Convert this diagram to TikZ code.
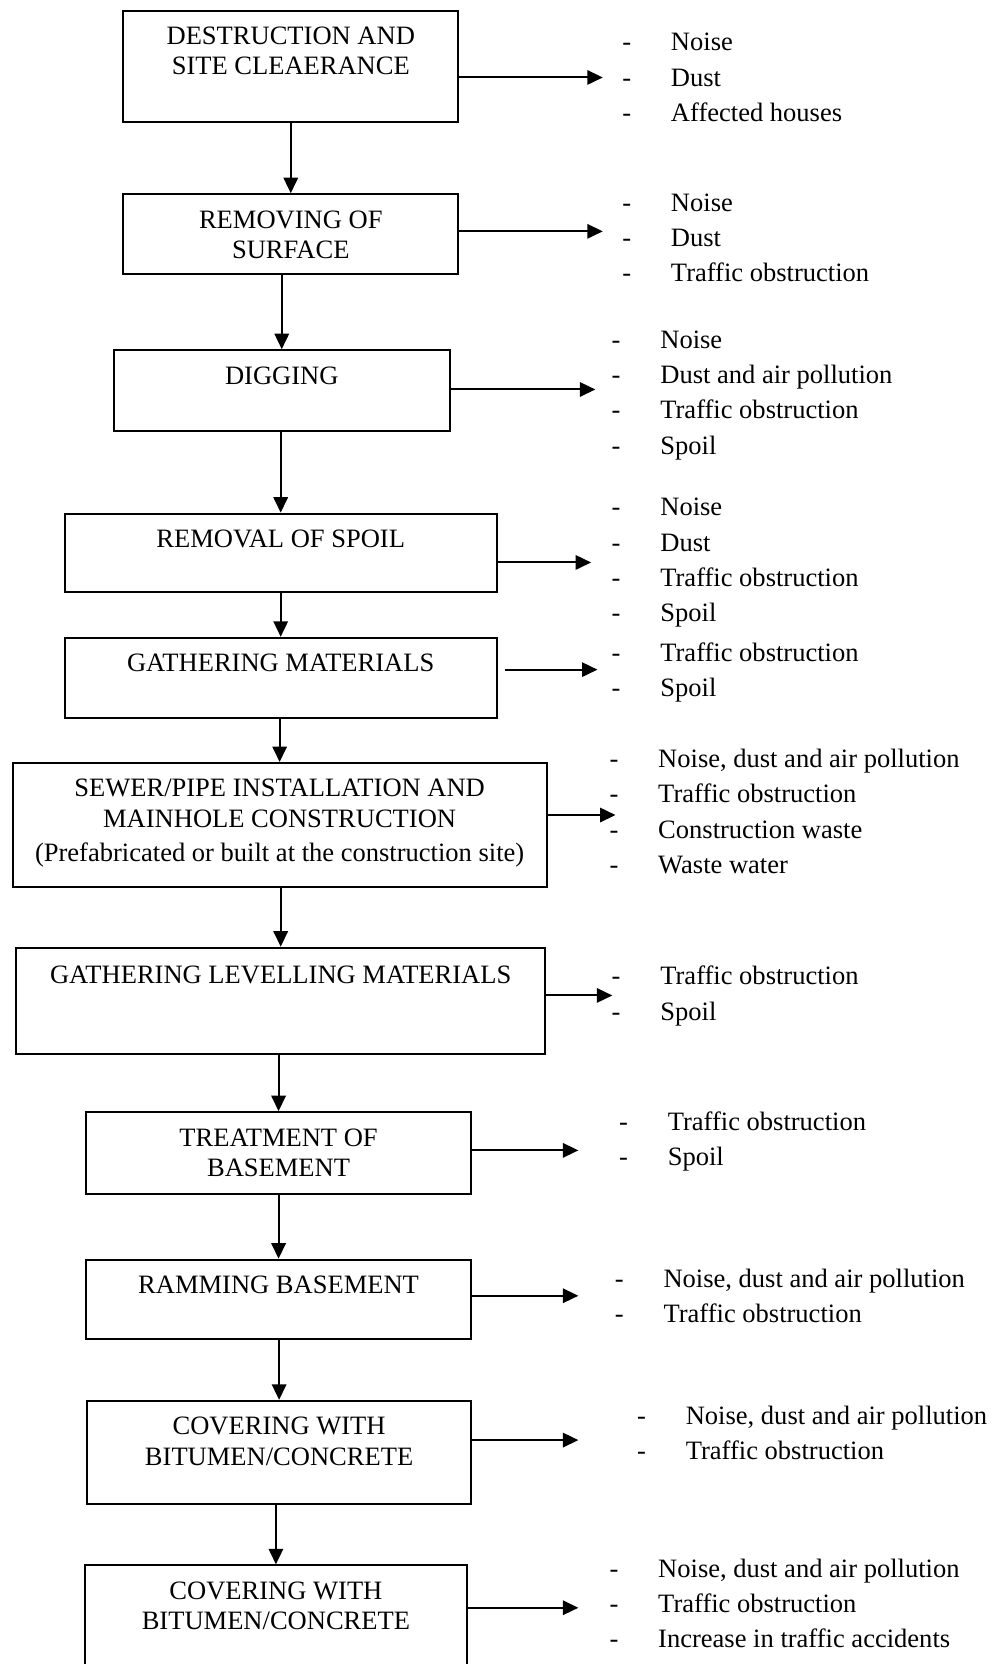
\documentclass[tikz,border=0pt]{standalone}
\usepackage{fontspec}
\setmainfont{Liberation Serif}
\usetikzlibrary{arrows.meta,fit}
\newcommand{\itm}[1]{\makebox[22pt][l]{-}#1}
\newcommand{\fx}[1]{\begin{tabular}[t]{@{}l@{}}#1\end{tabular}}
\newcommand{\ttl}[1]{\begin{tabular}[t]{@{}c@{}}#1\end{tabular}}

\begin{document}
\begin{tikzpicture}[x=0.48pt,y=-0.48pt,
    box/.style={draw,line width=0.9pt,inner sep=0pt},
    title/.style={anchor=base,inner sep=0pt,font=\fontsize{12}{13.7}\selectfont},
    effects/.style={anchor=base west,inner sep=0pt,font=\fontsize{12}{16}\selectfont},
    arr/.style={line width=0.9pt,-{Triangle[length=7pt,width=6.5pt]}}]
    \useasboundingbox (0,0) rectangle (934,1568);
    \node[box,fit={(116,10) (432,115)}] (b1) {};
    \node[box,fit={(116,183) (432,258)}] (b2) {};
    \node[box,fit={(107,330) (424,406)}] (b3) {};
    \node[box,fit={(61,484) (468,558)}] (b4) {};
    \node[box,fit={(61,601) (468,677)}] (b5) {};
    \node[box,fit={(12,719) (515,836)}] (b6) {};
    \node[box,fit={(15,893) (514,993)}] (b7) {};
    \node[box,fit={(81,1048) (444,1125)}] (b8) {};
    \node[box,fit={(81,1187) (444,1262)}] (b9) {};
    \node[box,fit={(82,1320) (444,1417)}] (b10) {};
    \node[box,fit={(80,1475) (440,1585)}] (b11) {};
    \node[title] (t1) at ([yshift=-15.8pt]b1.north) {\ttl{DESTRUCTION AND\\ SITE CLEAERANCE}};
    \node[title] (t2) at ([yshift=-15.8pt]b2.north) {\ttl{REMOVING OF\\ SURFACE}};
    \node[title] (t3) at ([yshift=-15.8pt]b3.north) {\ttl{DIGGING}};
    \node[title] (t4) at ([yshift=-15.8pt]b4.north) {\ttl{REMOVAL OF SPOIL}};
    \node[title] (t5) at ([yshift=-15.8pt]b5.north) {\ttl{GATHERING MATERIALS}};
    \node[title] (t6) at ([yshift=-15.8pt]b6.north) {\ttl{SEWER/PIPE INSTALLATION AND\\ MAINHOLE CONSTRUCTION\\[2pt] (Prefabricated or built at the construction site)}};
    \node[title] (t7) at ([yshift=-16.8pt]b7.north) {\ttl{GATHERING LEVELLING MATERIALS}};
    \node[title] (t8) at ([yshift=-15.8pt]b8.north) {\ttl{TREATMENT OF\\ BASEMENT}};
    \node[title] (t9) at ([yshift=-15.8pt]b9.north) {\ttl{RAMMING BASEMENT}};
    \node[title] (t10) at ([yshift=-15.8pt]b10.north) {\ttl{COVERING WITH\\ BITUMEN/CONCRETE}};
    \node[title] (t11) at ([yshift=-15.8pt]b11.north) {\ttl{COVERING WITH\\ BITUMEN/CONCRETE}};
    \draw[arr] (b1.south -| b2.north) -- (b2.north);
    \draw[arr] (b2.south -| b3.north) -- (b3.north);
    \draw[arr] (b3.south -| b4.north) -- (b4.north);
    \draw[arr] (b4.south -| b5.north) -- (b5.north);
    \draw[arr] (b5.south -| b6.north) -- (b6.north);
    \draw[arr] (b6.south -| b7.north) -- (b7.north);
    \draw[arr] (b7.south -| b8.north) -- (b8.north);
    \draw[arr] (b8.south -| b9.north) -- (b9.north);
    \draw[arr] (b9.south -| b10.north) -- (b10.north);
    \draw[arr] (b10.south -| b11.north) -- (b11.north);
    \coordinate (e1) at (568,73);
    \coordinate (e2) at (568,218);
    \coordinate (e3) at (561,367);
    \coordinate (e4) at (557,530);
    \coordinate (e5) at (563,631);
    \coordinate (e6) at (580,768);
    \coordinate (e7) at (577,938);
    \coordinate (e8) at (545,1084);
    \coordinate (e9) at (545,1221);
    \coordinate (e10) at (545,1357);
    \coordinate (e11) at (545,1515);
    \draw[arr] (b1.east |- e1) -- (e1);
    \draw[arr] (b2.east |- e2) -- (e2);
    \draw[arr] (b3.east |- e3) -- (e3);
    \draw[arr] (b4.east |- e4) -- (e4);
    \draw[arr] (b5.east |- e5) ++(7,0) -- (e5);
    \draw[arr] (b6.east |- e6) -- (e6);
    \draw[arr] (b7.east |- e7) -- (e7);
    \draw[arr] (b8.east |- e8) -- (e8);
    \draw[arr] (b9.east |- e9) -- (e9);
    \draw[arr] (b10.east |- e10) -- (e10);
    \draw[arr] (b11.east |- e11) -- (e11);
    \node[effects] (l1) at (586,48) {\fx{\itm{Noise}\\ \itm{Dust}\\ \itm{Affected houses}}};
    \node[effects] (l2) at (586,199) {\fx{\itm{Noise}\\ \itm{Dust}\\ \itm{Traffic obstruction}}};
    \node[effects] (l3) at (576,328) {\fx{\itm{Noise}\\ \itm{Dust and air pollution}\\ \itm{Traffic obstruction}\\ \itm{Spoil}}};
    \node[effects] (l4) at (576,486) {\fx{\itm{Noise}\\ \itm{Dust}\\ \itm{Traffic obstruction}\\ \itm{Spoil}}};
    \node[effects] (l5) at (576,623) {\fx{\itm{Traffic obstruction}\\ \itm{Spoil}}};
    \node[effects] (l6) at (574,723) {\fx{\itm{Noise, dust and air pollution}\\ \itm{Traffic obstruction}\\ \itm{Construction waste}\\ \itm{Waste water}}};
    \node[effects] (l7) at (576,928) {\fx{\itm{Traffic obstruction}\\ \itm{Spoil}}};
    \node[effects] (l8) at (583,1065) {\fx{\itm{Traffic obstruction}\\ \itm{Spoil}}};
    \node[effects] (l9) at (579,1213) {\fx{\itm{Noise, dust and air pollution}\\ \itm{Traffic obstruction}}};
    \node[effects] (l10) at (600,1342) {\fx{\itm{Noise, dust and air pollution}\\ \itm{Traffic obstruction}}};
    \node[effects] (l11) at (574,1486) {\fx{\itm{Noise, dust and air pollution}\\ \itm{Traffic obstruction}\\ \itm{Increase in traffic accidents}}};
\end{tikzpicture}
\end{document}
